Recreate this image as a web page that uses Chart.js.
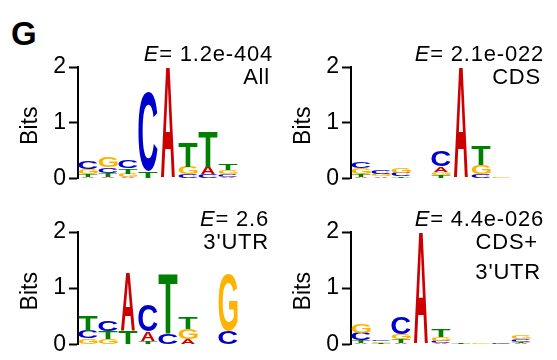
<!DOCTYPE html>
<html>
<head>
<meta charset="utf-8">
<script src="https://cdn.jsdelivr.net/npm/chart.js@4"></script>
<style>
  body { margin: 0; background: #fff; width: 557px; height: 360px; position: relative; overflow: hidden;
         font-family: 'Liberation Sans', Arial, Helvetica, sans-serif; color: #000; }
  canvas { position: absolute; }
  .lbl { position: absolute; font-size: 22px; line-height: 22px; letter-spacing: 0.8px; white-space: nowrap; text-align: right; }
</style>
</head>
<body>
<div class="lbl" style="left:11px;top:17px;font-size:33px;line-height:33px;letter-spacing:0;font-weight:bold;text-align:left">G</div>

<canvas id="logoAll" width="239" height="155" style="left:0;top:40px"></canvas>
<canvas id="logoCds" width="239" height="155" style="left:273px;top:40px"></canvas>
<canvas id="logoUtr" width="239" height="156" style="left:0;top:205px"></canvas>
<canvas id="logoMix" width="259" height="156" style="left:273px;top:205px"></canvas>

<div class="lbl" style="right:284px;top:43px"><i>E</i>= 1.2e-404</div>
<div class="lbl" style="right:287px;top:66px">All</div>
<div class="lbl" style="right:13px;top:43px"><i>E</i>= 2.1e-022</div>
<div class="lbl" style="right:16px;top:66px">CDS</div>
<div class="lbl" style="right:288px;top:208px"><i>E</i>= 2.6</div>
<div class="lbl" style="right:288px;top:231px">3'UTR</div>
<div class="lbl" style="right:13px;top:208px"><i>E</i>= 4.4e-026</div>
<div class="lbl" style="right:19px;top:231px">CDS+</div>
<div class="lbl" style="right:16px;top:261px">3'UTR</div>

<script>
// each position is a stack of [base, bits], listed bottom -> top
const allCols = [
  [['A', 0.03], ['T', 0.04], ['G', 0.09], ['C', 0.15]],
  [['A', 0.03], ['T', 0.06], ['C', 0.10], ['G', 0.19]],
  [['A', 0.02], ['G', 0.06], ['T', 0.10], ['C', 0.14]],
  [['T', 0.12], ['C', 1.42]],
  [['A', 1.98]],
  [['C', 0.07], ['G', 0.13], ['T', 0.43]],
  [['C', 0.07], ['A', 0.14], ['T', 0.62]],
  [['A', 0.03], ['C', 0.04], ['G', 0.08], ['T', 0.12]]
];

const cdsCols = [
  [['A', 0.03], ['T', 0.04], ['G', 0.11], ['C', 0.11]],
  [['A', 0.03], ['G', 0.05], ['C', 0.08]],
  [['A', 0.01], ['T', 0.03], ['C', 0.06], ['G', 0.09]],
  [],
  [['T', 0.06], ['G', 0.05], ['A', 0.10], ['C', 0.28]],
  [['A', 1.98]],
  [['A', 0.01], ['C', 0.07], ['G', 0.16], ['T', 0.35]],
  [['T', 0.01], ['G', 0.02]]
];

const utrCols = [
  [['G', 0.10], ['C', 0.14], ['T', 0.27]],
  [['G', 0.10], ['T', 0.14], ['C', 0.18]],
  [['T', 0.23], ['A', 1.03]],
  [['T', 0.06], ['A', 0.17], ['C', 0.47]],
  [['C', 0.20], ['T', 1.06]],
  [['A', 0.09], ['G', 0.18], ['T', 0.21]],
  [],
  [['C', 0.24], ['G', 1.00]]
];

const mixCols = [
  [['A', 0.02], ['T', 0.05], ['C', 0.13], ['G', 0.15]],
  [['A', 0.01], ['T', 0.02], ['G', 0.02], ['C', 0.03]],
  [['A', 0.03], ['T', 0.06], ['G', 0.09], ['C', 0.30]],
  [['A', 1.98]],
  [['A', 0.02], ['C', 0.04], ['G', 0.06], ['T', 0.13]],
  [['G', 0.01], ['T', 0.02]],
  [['G', 0.02]],
  [['C', 0.02]],
  [['A', 0.02], ['T', 0.02], ['C', 0.05], ['G', 0.07]]
];

const yTicks = [0, 1, 2];

const letterColors = { A: '#cc0000', C: '#0000cc', G: '#ffb300', T: '#008000' };
const letterWidth = { A: 0.7, C: 0.95, G: 0.95, T: 0.95 };
const fontFamily = "'Liberation Sans', Arial, Helvetica, sans-serif";

// paints each stacked bar as a stretched letter
const logoLetters = {
  id: 'logoLetters',
  afterDatasetsDraw(chart) {
    const ctx = chart.ctx;
    ctx.save();
    ctx.font = 'bold 200px ' + fontFamily;
    ctx.textAlign = 'left';
    ctx.textBaseline = 'alphabetic';
    chart.data.datasets.forEach((ds, r) => {
      chart.getDatasetMeta(r).data.forEach((bar, i) => {
        const letter = ds.letters[i];
        if (!letter) return;
        const p = bar.getProps(['x', 'y', 'base', 'width'], true);
        const h = p.base - p.y;
        if (h <= 0) return;
        const w = p.width * letterWidth[letter];
        const m = ctx.measureText(letter);
        const gw = m.actualBoundingBoxLeft + m.actualBoundingBoxRight;
        const gh = m.actualBoundingBoxAscent + m.actualBoundingBoxDescent;
        ctx.save();
        ctx.translate(p.x - w / 2, p.y);
        ctx.scale(w / gw, h / gh);
        ctx.fillStyle = letterColors[letter];
        ctx.fillText(letter, m.actualBoundingBoxLeft, m.actualBoundingBoxAscent);
        ctx.restore();
      });
    });
    ctx.restore();
  }
};

function drawLogo(id, cols) {
  const depth = Math.max(...cols.map(c => c.length));
  const datasets = [];
  for (let r = 0; r < depth; r++) {
    datasets.push({
      data: cols.map(c => c[r] ? c[r][1] : 0),
      letters: cols.map(c => c[r] ? c[r][0] : null),
      backgroundColor: 'rgba(0,0,0,0)',
      borderWidth: 0,
      barPercentage: 1,
      categoryPercentage: 1
    });
  }

  new Chart(document.getElementById(id), {
    type: 'bar',
    data: { labels: cols.map((c, i) => String(i + 1)), datasets: datasets },
    options: {
      responsive: false,
      animation: false,
      layout: { padding: { top: 27, bottom: 15, left: 0, right: 1 } },
      plugins: { legend: { display: false }, tooltip: { enabled: false } },
      scales: {
        x: { display: false, stacked: true },
        y: {
          stacked: true,
          min: yTicks[0],
          max: yTicks[yTicks.length - 1],
          afterFit: s => { s.width = 78; },
          afterBuildTicks: s => { s.ticks = yTicks.map(v => ({ value: v })); },
          ticks: { color: '#000', padding: 3, font: { family: fontFamily, size: 23 } },
          grid: { drawOnChartArea: false, tickLength: 9, tickWidth: 2, tickColor: '#000' },
          border: { color: '#000', width: 2 },
          title: {
            // trailing space nudges the centred label a little lower
            display: true, text: 'Bits ', color: '#000',
            font: { family: fontFamily, size: 23 },
            padding: { top: 17, bottom: 0 }
          }
        }
      }
    },
    plugins: [logoLetters]
  });
}

drawLogo('logoAll', allCols);
drawLogo('logoCds', cdsCols);
drawLogo('logoUtr', utrCols);
drawLogo('logoMix', mixCols);
</script>
</body>
</html>
